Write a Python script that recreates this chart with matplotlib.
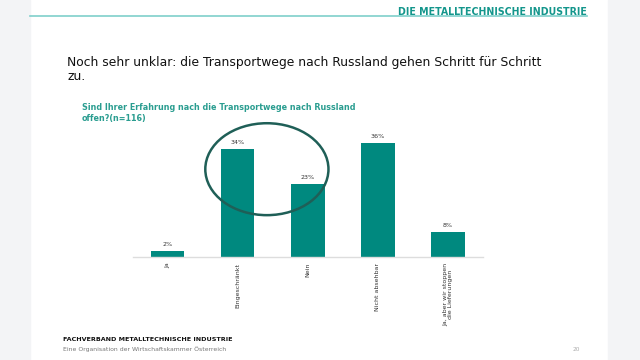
import matplotlib
matplotlib.use("Agg")
import matplotlib.pyplot as plt
from matplotlib.patches import Ellipse, Rectangle

# survey answers (n=116)
categories = ["Ja", "Eingeschränkt", "Nein", "Nicht absehbar",
              "Ja, aber wir stoppen\ndie Lieferungen"]
shares = [2, 34, 23, 36, 8]

W, H = 640, 360
teal = "#00897f"

def fx(x):
    return x / W

def fy(y):
    return 1 - y / H

fig = plt.figure(figsize=(6.4, 3.6), dpi=100)
fig.patch.set_facecolor("white")

# grey margins left/right of the slide
fig.patches.append(Rectangle((0, 0), fx(30), 1, transform=fig.transFigure,
                             color="#f3f4f6", zorder=0))
fig.patches.append(Rectangle((fx(608), 0), 1 - fx(608), 1, transform=fig.transFigure,
                             color="#f3f4f6", zorder=0))

# header
fig.lines.append(plt.Line2D([fx(30), fx(587)], [fy(16), fy(16)], transform=fig.transFigure,
                            color="#7fcfcb", lw=1.2))
fig.text(fx(587), fy(15), "DIE METALLTECHNISCHE INDUSTRIE", ha="right", va="baseline",
         fontsize=7.6, fontweight="bold", color="#14968c",
         family=["Liberation Sans Narrow", "DejaVu Sans"], fontstretch="condensed")

# titles
fig.text(fx(67), fy(66), "Noch sehr unklar: die Transportwege nach Russland gehen Schritt für Schritt",
         ha="left", va="baseline", fontsize=8.9, color="#111111")
fig.text(fx(67), fy(80), "zu.", ha="left", va="baseline", fontsize=8.9, color="#111111")
fig.text(fx(82), fy(110), "Sind Ihrer Erfahrung nach die Transportwege nach Russland",
         ha="left", va="baseline", fontsize=5.75, fontweight="bold", color="#2a9d90")
fig.text(fx(82), fy(121), "offen?(n=116)",
         ha="left", va="baseline", fontsize=5.75, fontweight="bold", color="#2a9d90")

# chart
ax = fig.add_axes([fx(132.5), fy(257), fx(483) - fx(132.5), (257 - 130.2) / H])
ax.set_facecolor("none")
x = list(range(len(categories)))
ax.bar(x, shares, width=0.48, color=teal, zorder=2)
for xi, v in zip(x, shares):
    ax.text(xi, v + 1.2, f"{v}%", ha="center", va="bottom", fontsize=4.6, color="#333333")
ax.set_xlim(-0.5, len(categories) - 0.5)
ax.set_ylim(0, 40)
ax.set_xticks(x)
ax.set_xticklabels(categories, rotation=90, fontsize=4.5, color="#333333",
                   va="top", ha="center", linespacing=1.0)
ax.tick_params(axis="x", length=0, pad=4)
ax.set_yticks([])
for s in ["top", "right", "left"]:
    ax.spines[s].set_visible(False)
ax.spines["bottom"].set_color("#dddddd")
ax.spines["bottom"].set_linewidth(1.0)

ell = Ellipse((1.417, 27.7), 1.757, 29, fill=False, edgecolor="#1f5f57", lw=1.8,
              clip_on=False, zorder=3)
ax.add_patch(ell)

# footer
fig.text(fx(63), fy(341), "FACHVERBAND METALLTECHNISCHE INDUSTRIE", ha="left", va="baseline",
         fontsize=4.6, fontweight="bold", color="#111111")
fig.text(fx(63), fy(351), "Eine Organisation der Wirtschaftskammer Österreich", ha="left",
         va="baseline", fontsize=4.4, color="#777777")
fig.text(fx(580), fy(351), "20", ha="right", va="baseline", fontsize=4.2, color="#aaaaaa")

fig.savefig("out.png", dpi=100)
